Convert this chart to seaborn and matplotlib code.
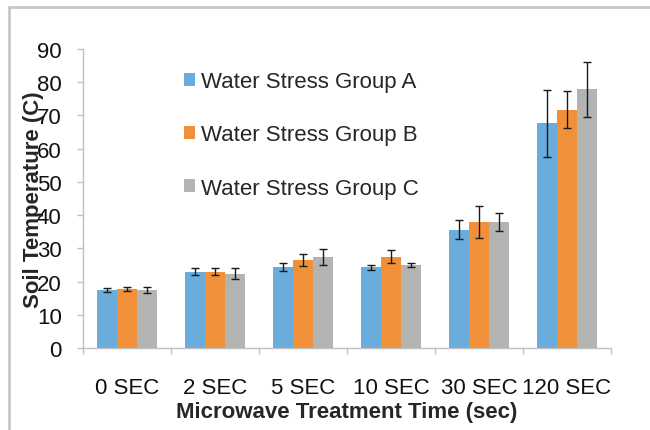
import matplotlib
matplotlib.use("Agg")
import matplotlib.pyplot as plt
import seaborn as sns
import pandas as pd
import numpy as np
from matplotlib.patches import Rectangle

categories = ["0 SEC", "2 SEC", "5 SEC", "10 SEC", "30 SEC", "120 SEC"]
groups = ["Water Stress Group A", "Water Stress Group B", "Water Stress Group C"]
group_a = [17.5, 23.0, 24.3, 24.3, 35.6, 67.6]
group_b = [17.7, 23.0, 26.4, 27.5, 38.0, 71.7]
group_c = [17.6, 22.4, 27.4, 25.0, 38.0, 77.9]
err_a = [0.5, 1.1, 1.2, 0.8, 2.9, 10.0]
err_b = [0.6, 1.1, 1.8, 2.0, 4.8, 5.6]
err_c = [0.9, 1.6, 2.3, 0.6, 2.7, 8.3]
colors = ["#6aacdb", "#f0913a", "#b3b3b3"]

rows = []
for g, vals, errs in zip(groups, [group_a, group_b, group_c], [err_a, err_b, err_c]):
    for c, v, e in zip(categories, vals, errs):
        rows.append({"cat": c, "group": g, "val": v, "err": e})
df = pd.DataFrame(rows)

sns.set_theme(style="white")
plt.rcParams["font.family"] = ["Liberation Sans", "DejaVu Sans"]

fig = plt.figure(figsize=(6.5, 4.31), dpi=100)
ax = fig.add_axes([0.128, 0.19, 0.812, 0.694])

sns.barplot(data=df, x="cat", y="val", hue="group", palette=colors,
            errorbar=None, width=0.68, saturation=1, ax=ax, linewidth=0)

for container, g in zip(ax.containers, groups):
    sub = df[df["group"] == g]
    xs = [p.get_x() + p.get_width() / 2 for p in container.patches]
    ax.errorbar(xs, sub["val"].values, yerr=sub["err"].values, fmt="none",
                ecolor="#1a1a1a", elinewidth=1.0, capsize=3, capthick=1.0, zorder=5)

ax.set_ylim(0, 90)
ax.set_yticks(np.arange(0, 91, 10))
ax.set_xlim(-0.5, len(categories) - 0.5)
ax.tick_params(axis="y", labelsize=16, length=4.5, color="#bfbfbf", width=1, left=True, pad=11, labelcolor="#111111")
ax.tick_params(axis="x", labelsize=16, length=0, pad=21, labelcolor="#111111")
ax.set_xticks(np.arange(-0.5, len(categories), 1.0), minor=True)
ax.tick_params(axis="x", which="minor", length=4.5, color="#bfbfbf", width=1, bottom=True)

for s in ["top", "right"]:
    ax.spines[s].set_visible(False)
for s in ["left", "bottom"]:
    ax.spines[s].set_color("#bfbfbf")
    ax.spines[s].set_linewidth(1)

ax.set_xlabel("Microwave Treatment Time (sec)", fontsize=16, fontweight="bold", labelpad=2)
ax.set_ylabel("Soil Temperature (C)", fontsize=16, fontweight="bold", labelpad=-5)

leg = ax.legend(loc="upper left", bbox_to_anchor=(0.191, 0.926), frameon=False,
                fontsize=16, labelspacing=1.45, handlelength=0.5, handleheight=0.5,
                handletextpad=0.25, borderpad=0, borderaxespad=0)

fig.patches.append(Rectangle((9 / 650, -0.1), 1.2, (431 - 8) / 431 + 0.1,
                             transform=fig.transFigure, fill=False,
                             edgecolor="#c6c6c6", linewidth=2, zorder=0))

fig.savefig("out.png", dpi=100)
